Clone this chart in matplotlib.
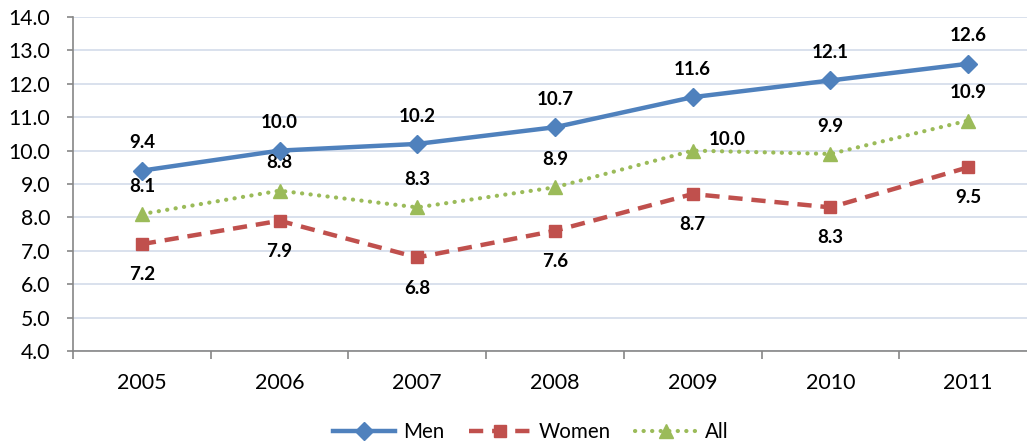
import matplotlib
matplotlib.use("Agg")
import matplotlib.pyplot as plt
from matplotlib.ticker import FixedLocator

years = ["2005", "2006", "2007", "2008", "2009", "2010", "2011"]
men = [9.4, 10.0, 10.2, 10.7, 11.6, 12.1, 12.6]
women = [7.2, 7.9, 6.8, 7.6, 8.7, 8.3, 9.5]
all_ = [8.1, 8.8, 8.3, 8.9, 10.0, 9.9, 10.9]
yticks = [4.0, 5.0, 6.0, 7.0, 8.0, 9.0, 10.0, 11.0, 12.0, 13.0, 14.0]

plt.rcParams['font.family'] = ['Lato', 'DejaVu Sans']

W, H = 1027, 444
fig = plt.figure(figsize=(W/100, H/100), dpi=100)
left, right, top, bottom = 73, 1037, 17, 351
ax = fig.add_axes([left/W, 1 - bottom/H, (right-left)/W, (bottom-top)/H])

x = list(range(len(years)))
c_men, c_wom, c_all = '#4f81bd', '#c0504d', '#9bbb59'

ax.plot(x, men, color=c_men, lw=3.2, marker='D', ms=9, label='Men', zorder=4)
ax.plot(x, women, color=c_wom, lw=3.2, ls=(0, (3.2, 2.0)), marker='s', ms=9, label='Women', zorder=3)
ax.plot(x, all_, color=c_all, lw=3.0, ls=(0, (0.05, 2.0)), dash_capstyle='round', marker='^', ms=10.5, label='All', zorder=3)

lab = dict(ha='center', va='center', fontsize=13.5, fontweight='bold', color='black')
for i in x:
    ax.annotate(f"{men[i]:.1f}", (i, men[i]), xytext=(0, 20), textcoords='offset points', **lab)
    ax.annotate(f"{women[i]:.1f}", (i, women[i]), xytext=(0, -22), textcoords='offset points', **lab)
    if years[i] == "2009":
        ax.annotate(f"{all_[i]:.1f}", (i, all_[i]), xytext=(25, 8), textcoords='offset points', **lab)
    else:
        ax.annotate(f"{all_[i]:.1f}", (i, all_[i]), xytext=(0, 20), textcoords='offset points', **lab)

ax.set_ylim(4.0, 14.0)
ax.set_xlim(-0.5, len(years) - 0.5)
ax.set_yticks(yticks)
ax.set_yticklabels([f"{v:.1f}" for v in yticks])
ax.set_xticks(x)
ax.set_xticklabels(years)
ax.xaxis.set_minor_locator(FixedLocator([i - 0.5 for i in range(len(years) + 1)]))
ax.tick_params(axis='x', which='major', length=0, pad=16, labelsize=15.5)
ax.tick_params(axis='x', which='minor', length=6, color='#868686', width=1.2)
ax.tick_params(axis='y', length=4.5, color='#868686', width=1.2, labelsize=15.3, pad=12)

ax.grid(axis='y', color='#d3dcea', lw=1.2, zorder=0)
ax.set_axisbelow(True)
for s in ['top', 'right']:
    ax.spines[s].set_visible(False)
for s in ['left', 'bottom']:
    ax.spines[s].set_color('#868686')
    ax.spines[s].set_linewidth(1.2)

leg = fig.legend(loc='center', bbox_to_anchor=(531/W, 1 - 432/H), ncol=3, frameon=False,
                 fontsize=14.8, handlelength=3.0, columnspacing=1.2, handletextpad=0.4)

fig.savefig("out.png", dpi=100)
